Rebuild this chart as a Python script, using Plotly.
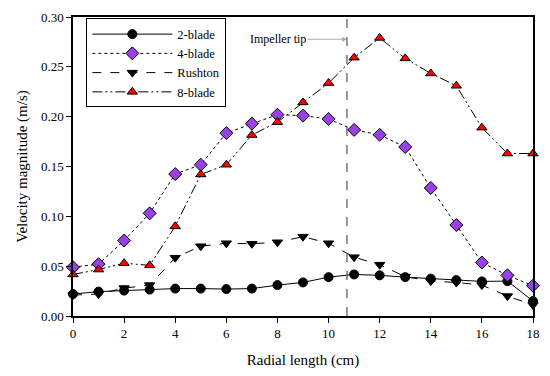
import plotly.graph_objects as go

radial = list(range(0, 19))
blade2 = [0.022, 0.0245, 0.0255, 0.0265, 0.0275, 0.0275, 0.027, 0.0275, 0.031, 0.0337, 0.039, 0.0417,
          0.0408, 0.039, 0.0375, 0.036, 0.0347, 0.035, 0.015]
blade4 = [0.049, 0.052, 0.0757, 0.103, 0.1424, 0.1518, 0.1835, 0.193, 0.202, 0.201, 0.1977, 0.1867,
          0.1818, 0.1696, 0.1285, 0.0913, 0.0537, 0.0408, 0.0304]
rushton = [0.021, 0.022, 0.028, 0.031, 0.0585, 0.070, 0.073, 0.0725, 0.074, 0.0796, 0.073, 0.059,
           0.0515, 0.0395, 0.035, 0.0337, 0.031, 0.020, 0.011]
blade8 = [0.0417, 0.0466, 0.053, 0.0508, 0.090, 0.142, 0.1518, 0.1816, 0.1945, 0.2143, 0.2337, 0.2592,
          0.279, 0.2585, 0.2434, 0.231, 0.189, 0.163, 0.163]
impeller_tip = 10.72
x_ticks = list(range(0, 19, 2))
y_ticks = [0.0, 0.05, 0.10, 0.15, 0.20, 0.25, 0.30]

FONT = "Liberation Serif"

fig = go.Figure()
series = [
    ("2-blade", blade2, "solid", dict(symbol="circle", color="black", size=9)),
    ("4-blade", blade4, "dot", dict(symbol="diamond", color="#9B40E6", size=10)),
    ("Rushton", rushton, "dash", dict(symbol="triangle-down", color="black", size=9)),
    ("8-blade", blade8, "10px,3px,2px,3px,2px,3px", dict(symbol="triangle-up", color="#FF0000", size=9)),
]
for name, ys, dash, mk in series:
    mk = dict(mk)
    mk["line"] = dict(color="black", width=1)
    fig.add_trace(go.Scatter(
        x=radial, y=ys, name=name, mode="lines+markers",
        line=dict(color="black", width=1, dash=dash),
        marker=mk, cliponaxis=False,
    ))

fig.add_shape(type="line", xref="x", yref="paper", x0=impeller_tip, x1=impeller_tip, y0=0, y1=1,
              line=dict(color="#555555", width=1.2, dash="dash"))
fig.add_annotation(x=impeller_tip, y=0.2777, xref="x", yref="y", text="Impeller tip",
                   showarrow=True, ax=-69, ay=0, arrowhead=2, arrowsize=1, arrowwidth=1,
                   arrowcolor="#AAAAAA", font=dict(family=FONT, size=12, color="black"))

axis_common = dict(showline=True, linecolor="black", linewidth=1.5, mirror=True,
                   ticks="outside", ticklen=5, tickcolor="black", tickwidth=1.2,
                   showgrid=False, zeroline=False,
                   tickfont=dict(family=FONT, size=13, color="black"))
fig.update_xaxes(range=[0, 18], tickvals=x_ticks,
                 title=dict(text="Radial length (cm)", font=dict(family=FONT, size=15, color="black"), standoff=14),
                 **axis_common)
fig.update_yaxes(range=[0, 0.30], tickvals=y_ticks, tickformat=".2f",
                 title=dict(text="Velocity magnitude (m/s)", font=dict(family=FONT, size=15, color="black"), standoff=10),
                 **axis_common)

fig.update_layout(
    width=550, height=376,
    margin=dict(l=73, r=13, t=10, b=58),
    plot_bgcolor="white", paper_bgcolor="white",
    font=dict(family=FONT, color="black"),
    legend=dict(x=0.029, y=0.995, xanchor="left", yanchor="top",
                bordercolor="black", borderwidth=1, bgcolor="white",
                font=dict(family=FONT, size=12.5, color="black"),
                itemwidth=80, tracegroupgap=0),
    showlegend=True,
)

fig.write_html("out.html", config={"displayModeBar": False},
               post_script="document.body.style.margin='0';document.body.style.overflow='hidden';")
